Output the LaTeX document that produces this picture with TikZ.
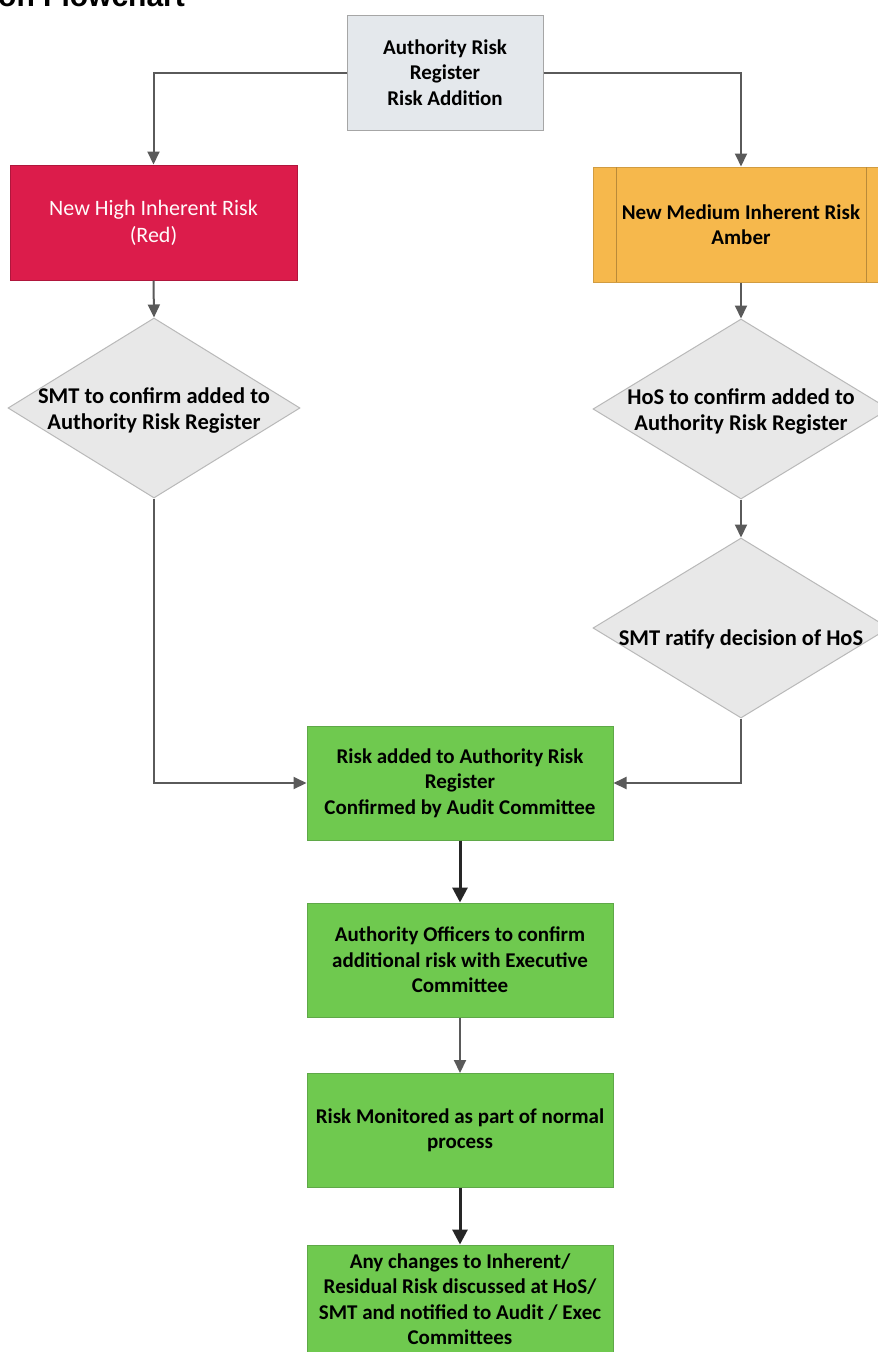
\documentclass[tikz,border=0pt]{standalone}
\usepackage{fontspec}
\setmainfont{Carlito}
\newfontfamily\titlefont{Liberation Sans}
\usetikzlibrary{shapes.geometric,arrows.meta}
\definecolor{redfill}{HTML}{DC1C4B}
\definecolor{amberfill}{HTML}{F6B84C}
\definecolor{greenfill}{HTML}{6FC94F}
\definecolor{greenedge}{HTML}{5FA848}
\definecolor{topfill}{HTML}{E4E8EC}
\definecolor{diafill}{HTML}{E8E8E8}
\definecolor{linegray}{HTML}{5A5A5A}
\begin{document}
\begin{tikzpicture}[x=1pt,y=-1pt,
  boxtext/.style={font=\fontsize{21}{25.5}\selectfont\bfseries, align=center, text=black},
  diatext/.style={font=\fontsize{22.5}{26}\selectfont\bfseries, align=center, text=black},
  topbox/.style={rectangle, draw=gray!70, line width=1pt, fill=topfill, minimum width=196pt, minimum height=115pt, inner sep=0pt},
  redbox/.style={rectangle, draw=redfill!80!black, line width=1pt, fill=redfill, minimum width=287pt, minimum height=115pt, inner sep=0pt, font=\fontsize{22}{27}\selectfont, align=center, text=white!92!pink},
  amberbox/.style={rectangle, draw=amberfill!85!black, line width=1pt, fill=amberfill, minimum width=296pt, minimum height=115pt, inner sep=0pt},
  greenbox/.style={rectangle, draw=greenedge, line width=1pt, fill=greenfill, minimum width=306pt, minimum height=114pt, inner sep=0pt},
  dia/.style={diamond, draw=gray!55, line width=1pt, fill=diafill, inner sep=0pt, minimum width=#1, minimum height=180pt},
  grayarrow/.style={draw=linegray, line width=2pt, -{Triangle[length=13pt,width=12pt]}},
  blackarrow/.style={draw=black!85, line width=3pt, -{Triangle[length=15pt,width=15pt]}},
  grayline/.style={draw=linegray, line width=2pt}
]
\useasboundingbox (0,0) rectangle (878,1352);
\clip (0,0) rectangle (878,1352);
\fill[white] (0,0) rectangle (878,1352);

% title (cut off at the top, as in the reference)
\node[anchor=base west, font=\titlefont\fontsize{30}{30}\selectfont\bfseries, inner sep=0pt] (title) at (-2,6) {on Flowchart};

% boxes
\node[topbox] (top) at (445,72.5) {};
\node[boxtext] at (top) {Authority Risk\\Register\\Risk Addition};

\node[redbox] (red) at (153.5,222.5) {New High Inherent Risk\\(Red)};

\node[amberbox] (amber) at (741,224.5) {};
\draw[amberfill!75!black, line width=1pt] (616,167) -- (616,282) (866,167) -- (866,282);
\node[boxtext] at (amber) {New Medium Inherent Risk\\Amber};

\node[dia=292pt] (d1) at (154,408) {};
\node[diatext] at ([yshift=-2pt]d1.center) {SMT to confirm added to\\Authority Risk Register};

\node[dia=296pt] (d2) at (741,409) {};
\node[diatext] at ([yshift=-2pt]d2.center) {HoS to confirm added to\\Authority Risk Register};

\node[dia=296pt] (d3) at (741,628) {};
\node[diatext] at ([yshift=-11pt]d3.center) {SMT ratify decision of HoS};

\node[greenbox] (g1) at (460,783) {};
\node[boxtext] at (g1) {Risk added to Authority Risk\\Register\\Confirmed by Audit Committee};

\node[greenbox] (g2) at (460,960) {};
\node[boxtext] at (g2) {Authority Officers to confirm\\additional risk with Executive\\Committee};

\node[greenbox] (g3) at (460,1130.5) {};
\node[boxtext] at (g3) {Risk Monitored as part of normal\\process};

\node[greenbox, minimum height=130pt] (g4) at (460,1310) {};
\node[boxtext, anchor=north] at (460,1250) {Any changes to Inherent/\\Residual Risk discussed at HoS/\\SMT and notified to Audit / Exec\\Committees};

% connectors
\draw[grayarrow] (top.west) -| (red.north);
\draw[grayarrow] (top.east) -| (amber.north);
\draw[grayarrow] (red.south) -- (d1.north);
\draw[grayarrow] (amber.south) -- (d2.north);
\draw[grayarrow] (d2.south) -- (d3.north);
\draw[grayarrow] (d1.south) |- (g1.west);
\draw[grayarrow] (d3.south) |- (g1.east);
\draw[blackarrow] (g1.south) -- (g2.north);
\draw[grayarrow] (g2.south) -- (g3.north);
\draw[blackarrow] (g3.south) -- (g4.north);
\end{tikzpicture}
\end{document}
